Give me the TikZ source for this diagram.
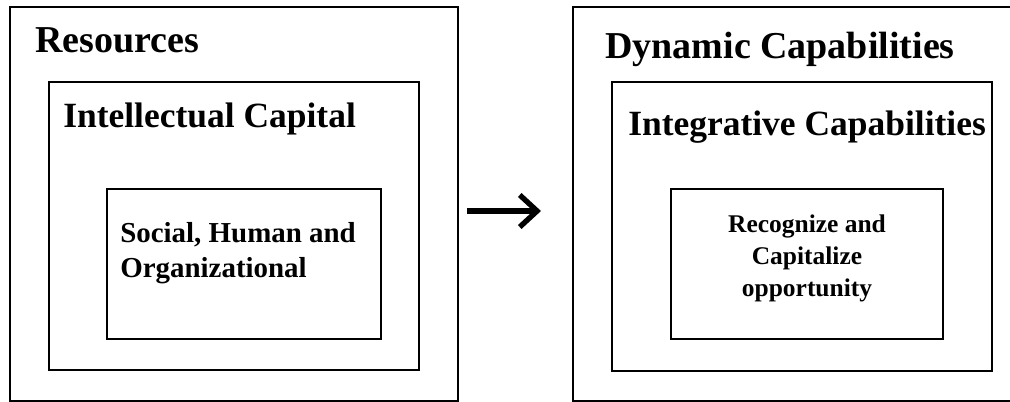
\documentclass[tikz,border=0pt]{standalone}
\usepackage{fontspec}
\setmainfont{Liberation Serif}
\usetikzlibrary{arrows.meta}

\tikzset{
  frame/.style={line width=2.1pt},
  bigtitle/.style={anchor=base west, inner sep=0pt, font=\bfseries\fontsize{28.5}{34}\selectfont},
  midtitle/.style={anchor=base west, inner sep=0pt, font=\bfseries\fontsize{26.6}{32}\selectfont},
  innertext/.style={anchor=north west, inner sep=0pt, align=left, font=\bfseries\fontsize{21.7}{26.2}\selectfont},
  smalltext/.style={anchor=north, inner sep=0pt, align=center, font=\bfseries\fontsize{19.1}{24}\selectfont},
}

\begin{document}
\begin{tikzpicture}[x=0.75pt,y=0.75pt,yscale=-1,xscale=1]
            %set diagram to 1010 x 402
            \clip (0,0) rectangle (1010,402);

            %Shape: Rectangle [left outer]
            \draw [frame] (10,7) rectangle (458,401);
            %Shape: Rectangle [left middle]
            \draw [frame] (49,82) rectangle (419,370);
            %Shape: Rectangle [left inner]
            \draw [frame] (107,189) rectangle (381,339);

            %Shape: Rectangle [right outer]
            \draw [frame] (573,7) rectangle (1016,401);
            %Shape: Rectangle [right middle]
            \draw [frame] (612,82) rectangle (992,371);
            %Shape: Rectangle [right inner]
            \draw [frame] (671,189) rectangle (943,339);

            %Straight Lines [arrow]
            \coordinate (arrowtail) at (467,211);
            \coordinate (arrowhead) at (541,211);
            \draw [line width=4pt, -{Straight Barb[length=13pt,width=24pt,line width=4pt]}] (arrowtail) -- (arrowhead);

            % Text Node
            \draw (35,53) node [bigtitle] (resources) {Resources};
            % Text Node
            \draw (63,128) node [midtitle] (intcapital) {Intellectual Capital};
            % Text Node
            \draw (120,222) node [innertext] (shorg) {Social, Human and\\Organizational};

            % Text Node
            \draw (605,59) node [bigtitle] (dyncap) {Dynamic Capabilities};
            % Text Node
            \draw (628,136) node [midtitle] (integcap) {Integrative Capabilities};
            % Text Node
            \draw (807,215) node [smalltext] (recog) {Recognize and\\Capitalize\\opportunity};

\end{tikzpicture}
\end{document}
